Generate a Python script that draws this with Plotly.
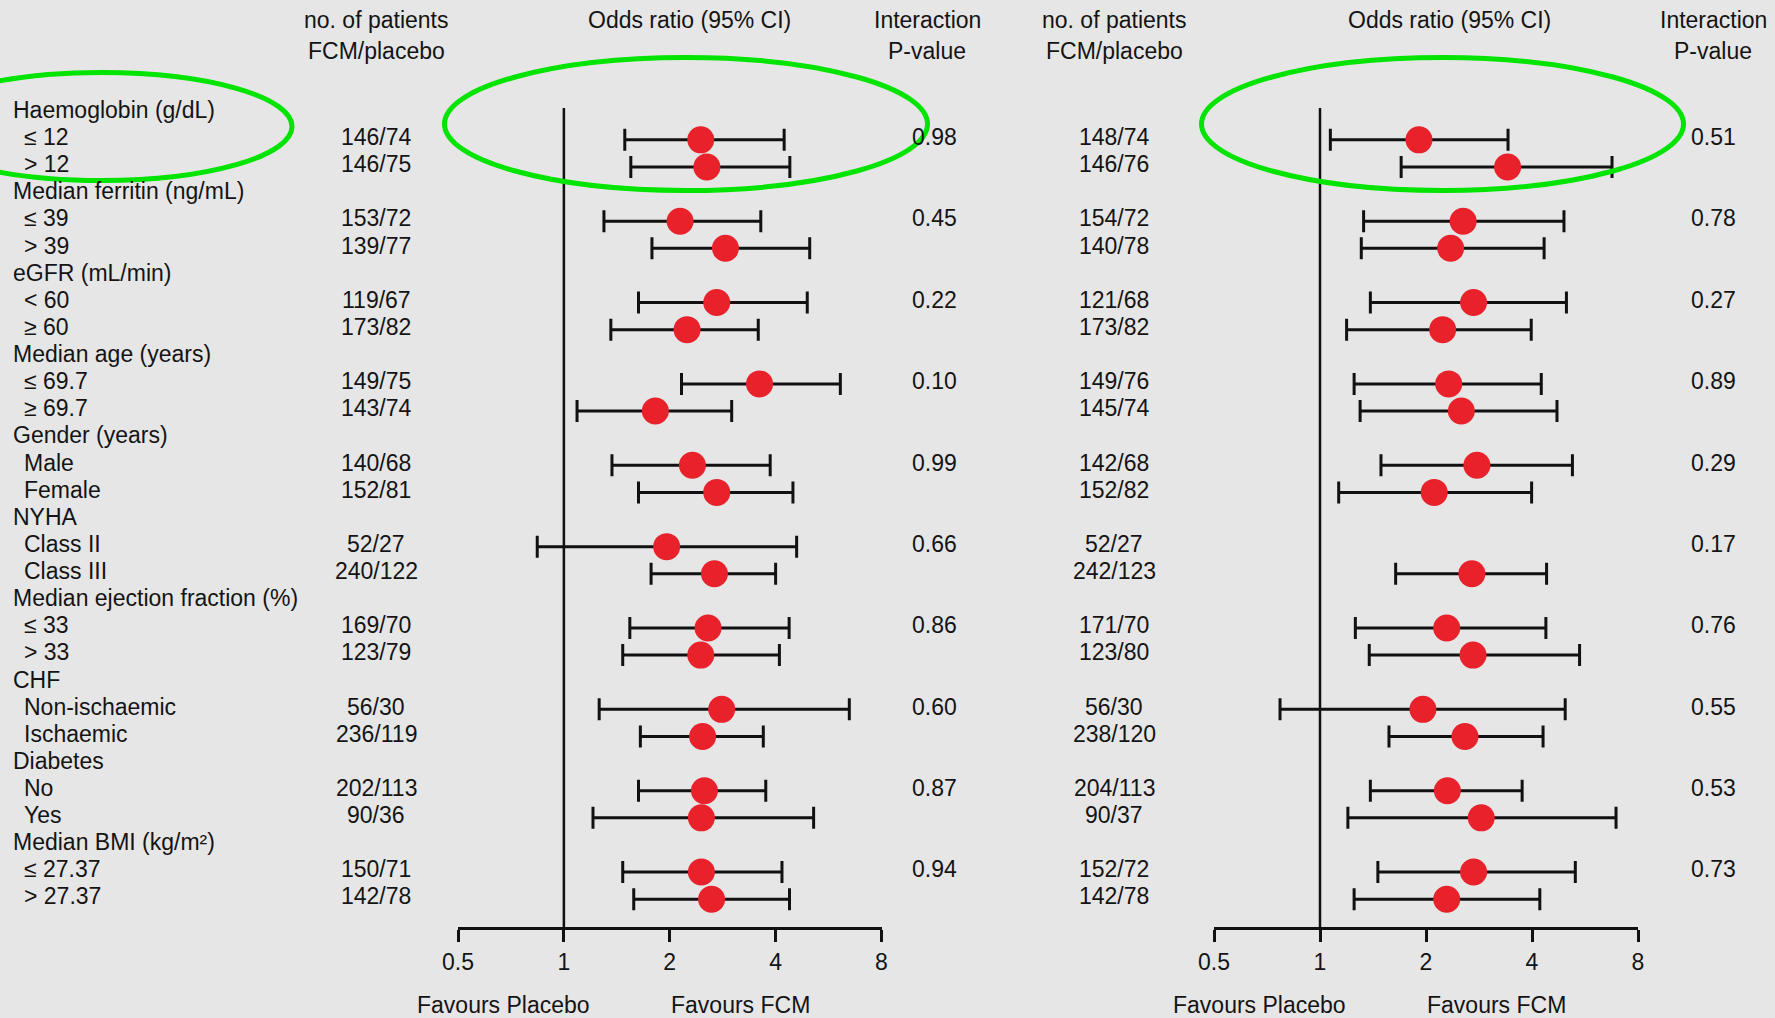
import plotly.graph_objects as go

# ---------------- data ----------------
groups = ["Haemoglobin (g/dL)", "Median ferritin (ng/mL)", "eGFR (mL/min)",
          "Median age (years)", "Gender (years)", "NYHA",
          "Median ejection fraction (%)", "CHF", "Diabetes", "Median BMI (kg/m²)"]
subgroups = ["≤ 12", "> 12", "≤ 39", "> 39", "< 60", "≥ 60", "≤ 69.7", "≥ 69.7",
             "Male", "Female", "Class II", "Class III", "≤ 33", "> 33",
             "Non-ischaemic", "Ischaemic", "No", "Yes", "≤ 27.37", "> 27.37"]

left_n = ["146/74", "146/75", "153/72", "139/77", "119/67", "173/82", "149/75", "143/74",
          "140/68", "152/81", "52/27", "240/122", "169/70", "123/79", "56/30", "236/119",
          "202/113", "90/36", "150/71", "142/78"]
left_or = [2.45, 2.55, 2.14, 2.88, 2.72, 2.24, 3.60, 1.82, 2.32, 2.72,
           1.96, 2.68, 2.57, 2.45, 2.81, 2.48, 2.51, 2.46, 2.46, 2.63]
left_lo = [1.49, 1.55, 1.30, 1.78, 1.63, 1.36, 2.16, 1.09, 1.37, 1.63,
           0.84, 1.77, 1.54, 1.47, 1.26, 1.65, 1.63, 1.21, 1.47, 1.58]
left_hi = [4.23, 4.39, 3.63, 5.00, 4.92, 3.57, 6.11, 3.00, 3.86, 4.48,
           4.59, 4.00, 4.37, 4.10, 6.48, 3.69, 3.75, 5.13, 4.17, 4.38]
left_p = ["0.98", "0.45", "0.22", "0.10", "0.99", "0.66", "0.86", "0.60", "0.87", "0.94"]

right_n = ["148/74", "146/76", "154/72", "140/78", "121/68", "173/82", "149/76", "145/74",
           "142/68", "152/82", "52/27", "242/123", "171/70", "123/80", "56/30", "238/120",
           "204/113", "90/37", "152/72", "142/78"]
right_or = [1.91, 3.41, 2.55, 2.35, 2.73, 2.23, 2.32, 2.52, 2.79, 2.11,
            None, 2.70, 2.29, 2.72, 1.96, 2.58, 2.30, 2.87, 2.73, 2.29]
right_lo = [1.07, 1.70, 1.33, 1.31, 1.39, 1.19, 1.25, 1.30, 1.49, 1.13,
            None, 1.64, 1.26, 1.38, 0.77, 1.57, 1.39, 1.20, 1.46, 1.25]
right_hi = [3.42, 6.75, 4.93, 4.33, 5.01, 3.98, 4.25, 4.71, 5.21, 3.99,
            None, 4.40, 4.38, 5.46, 4.97, 4.30, 3.75, 6.93, 5.31, 4.21]
right_p = ["0.51", "0.78", "0.27", "0.89", "0.29", "0.17", "0.76", "0.55", "0.53", "0.73"]

tick_vals = [0.5, 1, 2, 4, 8]
tick_text = ["0.5", "1", "2", "4", "8"]

# ---------------- layout constants ----------------
W, H = 1775, 1018
ROW0, ROWH = 110.0, 27.12
FONT = "Liberation Sans, Arial, Helvetica, sans-serif"
FS = 23
TXT = "#141414"
RED = "#e8212b"
GREEN = "#00e400"
MARK_OFF = 0.1


def px(x):
    return x / W


def py(y):
    return 1 - y / H


sub_rows = []
for g in range(len(groups)):
    sub_rows += [3 * g + 1, 3 * g + 2]
head_rows = [3 * g for g in range(len(groups))]

fig = go.Figure()


def add_panel(xname, ors, los, his):
    xs, ys, ep, em = [], [], [], []
    for r, o, lo, hi in zip(sub_rows, ors, los, his):
        if o is None:
            continue
        xs.append(o)
        ys.append(r + MARK_OFF)
        ep.append(hi - o)
        em.append(o - lo)
    fig.add_trace(go.Scatter(
        x=xs, y=ys, xaxis=xname, yaxis="y", mode="markers",
        marker=dict(size=27, color=RED, line=dict(width=0)),
        error_x=dict(type="data", symmetric=False, array=ep, arrayminus=em,
                     color="#111111", thickness=3, width=11),
        showlegend=False, hoverinfo="skip"))


add_panel("x", left_or, left_lo, left_hi)
add_panel("x2", right_or, right_lo, right_hi)

ann = []


def text(x, y, s, xanchor="center", yref="y"):
    ann.append(dict(x=x, y=y, xref="paper", yref=yref, text=s, showarrow=False,
                    xanchor=xanchor, yanchor="middle",
                    font=dict(family=FONT, size=FS, color=TXT)))


# row labels
for g, r in enumerate(head_rows):
    text(px(11), r, groups[g], "left")
for s, r in zip(subgroups, sub_rows):
    text(px(22), r, s, "left")

# counts
for s, r in zip(left_n, sub_rows):
    text(px(376), r, s)
for s, r in zip(right_n, sub_rows):
    text(px(1114), r, s)

# p-values
for g, s in enumerate(left_p):
    text(px(934), head_rows[g] + 1, s)
for g, s in enumerate(right_p):
    text(px(1713), head_rows[g] + 1, s)

# headers
for cx in (376, 1114):
    text(px(cx), py(20), "no. of patients", yref="paper")
    text(px(cx), py(51), "FCM/placebo", yref="paper")
for cx in (689, 1449):
    text(px(cx), py(20), "Odds ratio (95% CI)", yref="paper")
for cx in (927, 1713):
    text(px(cx), py(20), "Interaction", yref="paper")
    text(px(cx), py(51), "P-value", yref="paper")

# favours labels
for cx in (504, 1259.6):
    text(px(cx), py(1005), "Favours Placebo", yref="paper")
for cx in (740.5, 1496.6):
    text(px(cx), py(1005), "Favours FCM", yref="paper")

shapes = []
# reference lines at OR = 1
for xr in ("x", "x2"):
    shapes.append(dict(type="line", xref=xr, yref="paper", x0=1, x1=1,
                       y0=py(928), y1=py(108), line=dict(color="#111111", width=2.5)))
# green highlight ellipses
for (x0, y0, x1, y1) in [(-88, 72.5, 292, 180.5), (444.5, 57.5, 927.5, 190.5),
                         (1201.5, 57.5, 1683.5, 190.5)]:
    shapes.append(dict(type="circle", xref="paper", yref="paper",
                       x0=px(x0), x1=px(x1), y0=py(y1), y1=py(y0),
                       line=dict(color=GREEN, width=5), fillcolor="rgba(0,0,0,0)",
                       layer="above"))

axis_common = dict(type="log", range=[-0.30103, 0.90309], tickvals=tick_vals,
                   ticktext=tick_text, showgrid=False, zeroline=False, showline=True,
                   linecolor="#111111", linewidth=3, ticks="outside", ticklen=12,
                   tickwidth=3, tickcolor="#111111", anchor="free", position=py(928),
                   tickfont=dict(family=FONT, size=FS, color=TXT), fixedrange=True,
                   automargin=False)

fig.update_layout(
    width=W, height=H, autosize=False,
    margin=dict(l=0, r=0, t=0, b=0, pad=0, autoexpand=False),
    paper_bgcolor="#e6e6e6", plot_bgcolor="rgba(0,0,0,0)",
    xaxis=dict(domain=[px(458), px(881.5)], **axis_common),
    xaxis2=dict(domain=[px(1214), px(1638)], **axis_common),
    yaxis=dict(domain=[0, 1], range=[(H - ROW0) / ROWH, -ROW0 / ROWH],
               visible=False, fixedrange=True, automargin=False),
    annotations=ann, shapes=shapes, showlegend=False,
)

post = ("document.body.style.margin='0';document.body.style.padding='0';"
        "document.documentElement.style.overflow='hidden';"
        "document.body.style.overflow='hidden';"
        "document.body.style.background='#e6e6e6';")

fig.write_html("out.html", post_script=post,
               config={"responsive": False, "displayModeBar": False})
